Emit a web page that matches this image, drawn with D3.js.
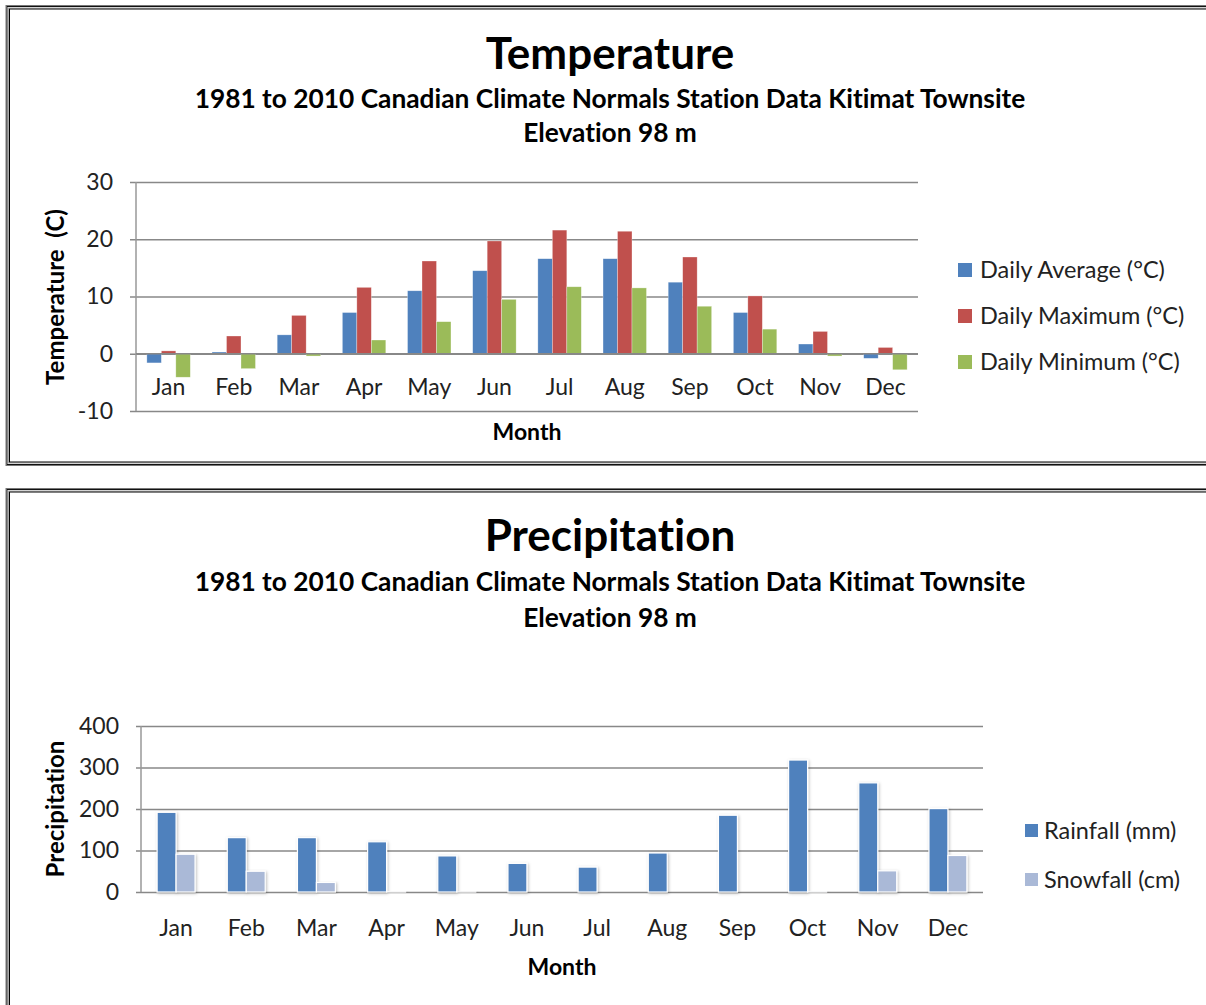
<!DOCTYPE html>
<html><head><meta charset="utf-8">
<script src="https://cdn.jsdelivr.net/npm/d3@7/dist/d3.min.js"></script>
<style>body{margin:0;background:#fff}svg{display:block}text{font-family:Lato,"Open Sans",sans-serif;font-variant-ligatures:none;font-feature-settings:"liga" 0}</style>
</head><body><svg id="c" width="1206" height="1005"></svg>
<script>
const months = ["Jan","Feb","Mar","Apr","May","Jun","Jul","Aug","Sep","Oct","Nov","Dec"];
const dailyAverage = [-1.6,0.3,3.3,7.2,11.0,14.5,16.6,16.6,12.5,7.2,1.7,-0.8];
const dailyMaximum = [0.5,3.1,6.7,11.6,16.2,19.7,21.6,21.4,16.9,10.1,3.9,1.1];
const dailyMinimum = [-4.1,-2.6,-0.4,2.4,5.6,9.5,11.7,11.5,8.3,4.3,-0.4,-2.8];
const rainfall = [192,131,131,121,87,69,60,94,185,318,263,201];
const snowfall = [91,50,23,0.6,0.2,0,0,0,0,0.5,51,88];
const tempTicks = [-10,0,10,20,30];
const precipTicks = [0,100,200,300,400];
const tempSeries = ["Daily Average (°C)","Daily Maximum (°C)","Daily Minimum (°C)"];
const precipSeries = ["Rainfall (mm)","Snowfall (cm)"];
const subtitle1 = "1981 to 2010 Canadian Climate Normals Station Data Kitimat Townsite";
const subtitle2 = "Elevation 98 m";

const svg = d3.select("#c");
const defs = svg.append("defs");
const f = defs.append("filter").attr("id","sh").attr("x","-30%").attr("y","-10%").attr("width","160%").attr("height","130%");
f.append("feDropShadow").attr("dx",1).attr("dy",1).attr("stdDeviation",1.5).attr("flood-color","#000").attr("flood-opacity",0.25);

function frame(y0, y1){
  const g = svg.append("g");
  g.append("rect").attr("x",6).attr("y",y0).attr("width",1240).attr("height",y1-y0).attr("fill","none").attr("stroke","#777").attr("stroke-width",1);
  g.append("rect").attr("x",7).attr("y",y0+1).attr("width",1240).attr("height",y1-y0-2).attr("fill","none").attr("stroke","#111").attr("stroke-width",1);
  g.append("rect").attr("x",8.5).attr("y",y0+2.5).attr("width",1240).attr("height",y1-y0-5).attr("fill","none").attr("stroke","#aaa").attr("stroke-width",1);
  g.append("rect").attr("x",9.5).attr("y",y0+3.5).attr("width",1240).attr("height",y1-y0-7).attr("fill","none").attr("stroke","#000").attr("stroke-width",1);
}
frame(5.5, 465.5);
frame(488.5, 1030);

function titles(yT, yS1, yS2, main){
  svg.append("text").attr("x",610).attr("y",yT).attr("text-anchor","middle").attr("font-size",44).attr("font-weight","bold").text(main);
  svg.append("text").attr("x",610).attr("y",yS1).attr("text-anchor","middle").attr("font-size",26.3).attr("font-weight","bold").text(subtitle1);
  svg.append("text").attr("x",610).attr("y",yS2).attr("text-anchor","middle").attr("font-size",26.3).attr("font-weight","bold").text(subtitle2);
}
titles(69, 108, 142, "Temperature");
titles(551, 591, 627, "Precipitation");

const tickFmt = d => String(d);

// ---------- Temperature chart
{
  const x = d3.scaleBand().domain(months).range([136,918]);
  const bw = x.bandwidth();
  const xs = d3.scaleBand().domain([0,1,2]).range([(bw-3*bw/4.5)/2, (bw+3*bw/4.5)/2]);
  const y = d3.scaleLinear().domain([-10,30]).range([411,182]);
  const g = svg.append("g");
  g.append("g").attr("transform","translate(136,0)")
    .call(d3.axisLeft(y).tickValues(tempTicks).tickSize(-782).tickSizeOuter(0).tickFormat(tickFmt))
    .call(a=>{a.select(".domain").remove();
      a.selectAll(".tick line").attr("stroke","#888").attr("stroke-width",1.3).attr("x1",-6);
      a.selectAll(".tick text").attr("font-size",23).attr("fill","#222").attr("x",-23);});
  g.append("line").attr("x1",136).attr("x2",136).attr("y1",182).attr("y2",411).attr("stroke","#999").attr("stroke-width",1.5);
  const cols = ["#4F81BD","#C0504D","#9BBB59"];
  [dailyAverage,dailyMaximum,dailyMinimum].forEach((arr,si)=>{
    g.selectAll(null).data(arr).join("rect")
      .attr("x",(d,i)=>x(months[i])+xs(si)).attr("width",xs.bandwidth())
      .attr("y",d=>y(Math.max(0,d))).attr("height",d=>Math.abs(y(d)-y(0)))
      .attr("fill",cols[si]).attr("stroke","rgba(255,255,255,0.5)").attr("stroke-width",0.6);
  });
  g.append("line").attr("x1",136).attr("x2",918).attr("y1",y(0)).attr("y2",y(0)).attr("stroke","#888").attr("stroke-width",1.3);
  g.selectAll(null).data(months).join("text").attr("x",d=>x(d)+bw/2).attr("y",395).attr("text-anchor","middle").attr("font-size",23).attr("fill","#222").text(d=>d);
  g.append("text").attr("x",527).attr("y",440).attr("text-anchor","middle").attr("font-size",23).attr("font-weight","bold").text("Month");
  g.append("text").attr("transform","translate(64,297) rotate(-90)").attr("text-anchor","middle").attr("font-size",24).attr("font-weight","bold").attr("xml:space","preserve").text("Temperature  (C)");
  tempSeries.forEach((s,i)=>{
    const yy = 270 + i*46;
    g.append("rect").attr("x",958).attr("y",yy-7).attr("width",14).attr("height",14).attr("fill",cols[i]);
    g.append("text").attr("x",980).attr("y",yy+8).attr("font-size",23.5).attr("fill","#222").text(s);
  });
}

// ---------- Precipitation chart
{
  const x = d3.scaleBand().domain(months).range([141,983]);
  const bw = x.bandwidth();
  const bar = bw/3.7;
  const xs = d3.scaleBand().domain([0,1]).range([(bw-2*bar)/2, (bw+2*bar)/2]);
  const y = d3.scaleLinear().domain([0,400]).range([892,726]);
  const g = svg.append("g");
  g.append("g").attr("transform","translate(141,0)")
    .call(d3.axisLeft(y).tickValues(precipTicks).tickSize(-842).tickSizeOuter(0).tickFormat(tickFmt))
    .call(a=>{a.select(".domain").remove();
      a.selectAll(".tick line").attr("stroke","#888").attr("stroke-width",1.3).attr("x1",-5);
      a.selectAll(".tick text").attr("font-size",23).attr("fill","#222").attr("x",-22);});
  g.append("line").attr("x1",141).attr("x2",141).attr("y1",726).attr("y2",892).attr("stroke","#999").attr("stroke-width",1.5);
  const cols = ["#4F81BD","#AAB9D7"];
  [rainfall,snowfall].forEach((arr,si)=>{
    g.selectAll(null).data(arr).join("rect")
      .attr("x",(d,i)=>x(months[i])+xs(si)).attr("width",xs.bandwidth())
      .attr("y",d=>y(d)).attr("height",d=>y(0)-y(d))
      .attr("fill",cols[si]).attr("stroke","#fff").attr("stroke-width",1.2).attr("filter","url(#sh)");
  });
  g.selectAll(null).data(months).join("text").attr("x",d=>x(d)+bw/2).attr("y",936).attr("text-anchor","middle").attr("font-size",23).attr("fill","#222").text(d=>d);
  g.append("text").attr("x",562).attr("y",975).attr("text-anchor","middle").attr("font-size",23).attr("font-weight","bold").text("Month");
  g.append("text").attr("transform","translate(64,809) rotate(-90)").attr("text-anchor","middle").attr("font-size",24).attr("font-weight","bold").text("Precipitation");
  precipSeries.forEach((s,i)=>{
    const yy = 831 + i*49;
    g.append("rect").attr("x",1025).attr("y",yy-7).attr("width",13).attr("height",13).attr("fill",cols[i]);
    g.append("text").attr("x",1044).attr("y",yy+8).attr("font-size",23.5).attr("fill","#222").text(s);
  });
}
</script></body></html>
